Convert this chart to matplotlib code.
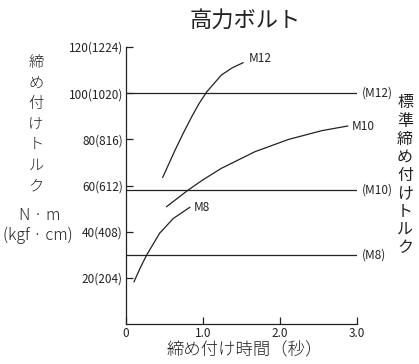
import numpy as np
import matplotlib.pyplot as plt

plt.rcParams['font.family'] = ['Liberation Sans Narrow', 'Noto Sans CJK JP', 'DejaVu Sans']

# tightening curves (time s, torque N·m)
m12_t = [0.48, 0.64, 0.75, 0.855, 0.95, 1.05, 1.24, 1.38, 1.52]
m12_v = [63.6, 75.4, 83.0, 89.8, 95.5, 100.6, 107.9, 111.0, 113.2]
m10_t = [0.53, 0.81, 1.00, 1.24, 1.675, 2.11, 2.54, 2.875]
m10_v = [50.9, 58.1, 62.5, 67.5, 74.7, 80.0, 83.8, 85.8]
m8_t = [0.108, 0.19, 0.272, 0.44, 0.617, 0.83]
m8_v = [18.4, 24.5, 30.0, 39.4, 45.8, 50.6]

# standard tightening torque
std_names = ['(M12)', '(M10)', '(M8)']
std_vals = [100, 58.3, 30]

yticks = [20, 40, 60, 80, 100, 120]
ylabels = ['20(204)', '40(408)', '60(612)', '80(816)', '100(1020)', '120(1224)']
xticks = [0, 1.0, 2.0, 3.0]
xlabels = ['0', '1.0', '2.0', '3.0']

ink = '#222222'
fig = plt.figure(figsize=(4.19, 3.64), dpi=100)
ax = fig.add_axes([0.300, 0.1093, 0.5527, 0.7615])

for v, name in zip(std_vals, std_names):
    ax.plot([0, 3.0], [v, v], color=ink, lw=0.9)
    ax.text(3.06, v, name, fontsize=8.5, va='center', ha='left', color=ink)

ax.plot(m12_t, m12_v, color=ink, lw=0.9)
ax.plot(m10_t, m10_v, color=ink, lw=0.9)
ax.plot(m8_t, m8_v, color=ink, lw=0.9)
ax.text(1.60, 115.0, 'M12', fontsize=8.5, va='center', color=ink)
ax.text(2.93, 85.8, 'M10', fontsize=8.5, va='center', color=ink)
ax.text(0.88, 50.7, 'M8', fontsize=8.5, va='center', color=ink)

ax.set_xlim(0, 3.0)
ax.set_ylim(0, 120)
ax.set_xticks(xticks)
ax.set_xticklabels(xlabels, fontsize=8.5, color=ink)
ax.set_yticks(yticks)
ax.set_yticklabels(ylabels, fontsize=8.5, color=ink)
ax.tick_params(direction='in', length=5, width=0.9, pad=2, color=ink)
ax.spines['top'].set_visible(False)
ax.spines['right'].set_visible(False)
ax.spines['left'].set_linewidth(0.9)
ax.spines['bottom'].set_linewidth(0.9)
ax.spines['left'].set_color(ink)
ax.spines['bottom'].set_color(ink)
ax.patch.set_alpha(0)

cjk = ['Noto Sans CJK JP', 'DejaVu Sans']
fig.text(245 / 419, 1 - 20 / 364, '高力ボルト', fontsize=16, ha='center', va='center',
         family=cjk, color=ink)
fig.text(245 / 419, 1 - 350 / 364, '締め付け時間（秒）', fontsize=12.5, ha='center', va='center',
         family=cjk, weight='light', color=ink)

left_chars = '締め付けトルク'
for i, ch in enumerate(left_chars):
    fig.text(36 / 419, 1 - (63 + i * 20.5) / 364, ch, fontsize=11, ha='center', va='center',
             family=cjk, weight='light', color=ink)
fig.text(40 / 419, 1 - 215 / 364, 'N · m', fontsize=11.5, ha='center', va='center',
         family=cjk, weight='light', color=ink)
fig.text(38 / 419, 1 - 235 / 364, '(kgf · cm)', fontsize=11.5, ha='center', va='center',
         family=cjk, weight='light', color=ink)

right_chars = '標準締め付けトルク'
for i, ch in enumerate(right_chars):
    fig.text(405 / 419, 1 - (103 + i * 18.1) / 364, ch, fontsize=11.5, ha='center', va='center',
             family=cjk, color=ink)

fig.savefig('out.png', dpi=100)
